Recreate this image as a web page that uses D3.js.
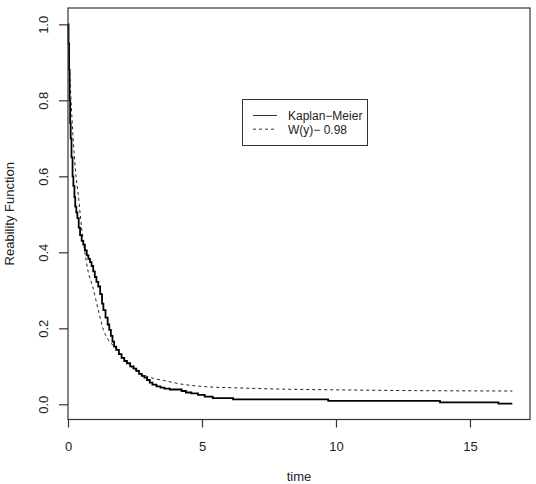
<!DOCTYPE html>
<html>
<head>
<meta charset="utf-8">
<script src="https://cdn.jsdelivr.net/npm/d3@7"></script>
<style>
  html, body { margin: 0; padding: 0; background: #fff; }
  svg { display: block; }
  text { font-family: "Liberation Sans", Arial, Helvetica, sans-serif; fill: #222; }
</style>
</head>
<body>
<svg id="chart" width="536" height="484"></svg>
<script>
// ---- data ----
const kmTime = [0, 0.02, 0.04, 0.06, 0.08, 0.10, 0.13, 0.17, 0.20, 0.24, 0.27, 0.31, 0.35, 0.40, 0.45,
  0.51, 0.57, 0.63, 0.70, 0.76, 0.82, 0.88, 0.94, 1.00, 1.06, 1.13, 1.20, 1.27, 1.32, 1.40, 1.48,
  1.54, 1.60, 1.66, 1.72, 1.80, 1.90, 2.00, 2.10, 2.20, 2.32, 2.45, 2.55, 2.65, 2.75, 2.85, 2.95,
  3.05, 3.15, 3.30, 3.45, 3.60, 3.80, 4.24, 4.40, 4.60, 4.85, 5.10, 5.40, 6.16, 9.71, 13.88, 16.06, 16.58];
const kmSurv = [1.0, 0.95, 0.88, 0.80, 0.74, 0.70, 0.65, 0.60, 0.575, 0.545, 0.52, 0.505, 0.49, 0.465, 0.445,
  0.43, 0.42, 0.405, 0.392, 0.383, 0.374, 0.364, 0.35, 0.335, 0.322, 0.31, 0.29, 0.265, 0.248, 0.228, 0.21,
  0.196, 0.18, 0.165, 0.152, 0.143, 0.132, 0.122, 0.114, 0.108, 0.100, 0.094, 0.088, 0.080, 0.075, 0.070, 0.064,
  0.057, 0.052, 0.047, 0.044, 0.041, 0.039, 0.035, 0.031, 0.029, 0.025, 0.020, 0.016, 0.013, 0.009, 0.005, 0.002, 0.002];

const wTime = [0, 0.05, 0.10, 0.15, 0.20, 0.30, 0.40, 0.47, 0.57, 0.63, 0.75, 0.92, 1.13, 1.32, 1.50,
  1.75, 2.00, 2.30, 2.69, 3.20, 3.56, 4.00, 5.00, 6.40, 8.00, 10.0, 13.0, 16.58];
const wSurv = [1.0, 0.90, 0.82, 0.75, 0.69, 0.60, 0.54, 0.49, 0.43, 0.40, 0.35, 0.31, 0.248, 0.196, 0.170,
  0.150, 0.126, 0.102, 0.082, 0.068, 0.063, 0.056, 0.047, 0.043, 0.040, 0.038, 0.036, 0.035];

const xTicks = [0, 5, 10, 15];
const yTicks = [0.0, 0.2, 0.4, 0.6, 0.8, 1.0];
const legendLabels = ["Kaplan\u2212Meier", "W(y)\u2212 0.98"];
const xLabel = "time";
const yLabel = "Reability Function";

// ---- layout ----
const L = 68, R = 530, T = 8, B = 419.5;
const svg = d3.select("#chart");
const x = d3.scaleLinear().domain([0, 17.24]).range([L, R]);
const y = d3.scaleLinear().domain([-0.04, 1.043]).range([B, T]);

// curves
const km = kmTime.map((t, i) => [t, kmSurv[i]]);
const wc = wTime.map((t, i) => [t, wSurv[i]]);

svg.append("path")
  .datum(wc)
  .attr("fill", "none")
  .attr("stroke", "#222")
  .attr("stroke-width", 1)
  .attr("stroke-dasharray", "3,3")
  .attr("d", d3.line().x(d => x(d[0])).y(d => y(d[1])).curve(d3.curveMonotoneX));

svg.append("path")
  .datum(km)
  .attr("fill", "none")
  .attr("stroke", "#000")
  .attr("stroke-width", 1.8)
  .attr("d", d3.line().x(d => x(d[0])).y(d => y(d[1])).curve(d3.curveStepAfter));

// box
svg.append("rect")
  .attr("x", L).attr("y", T).attr("width", R - L).attr("height", B - T)
  .attr("fill", "none").attr("stroke", "#333").attr("stroke-width", 1.2);

// x axis
const xa = svg.append("g").attr("transform", `translate(0,${B})`)
  .call(d3.axisBottom(x).tickValues(xTicks).tickFormat(d3.format("d")).tickSize(8).tickPadding(14));
xa.select(".domain").remove();
xa.selectAll("line").attr("stroke", "#333").attr("stroke-width", 1.2);
xa.selectAll("text").attr("font-size", 13).attr("fill", "#222")
  .style("font-family", "'Liberation Sans', Arial, sans-serif");

// y axis
const ya = svg.append("g").attr("transform", `translate(${L},0)`)
  .call(d3.axisLeft(y).tickValues(yTicks).tickFormat(d3.format(".1f")).tickSize(9));
ya.select(".domain").remove();
ya.selectAll("line").attr("stroke", "#333").attr("stroke-width", 1.2);
ya.selectAll("text")
  .attr("font-size", 13).attr("fill", "#222")
  .style("font-family", "'Liberation Sans', Arial, sans-serif")
  .attr("text-anchor", "middle")
  .attr("x", 0).attr("dy", 0)
  .attr("transform", "translate(-20,0) rotate(-90)")
  .attr("y", 0);

// axis labels
svg.append("text").attr("x", (L + R) / 2).attr("y", 481)
  .attr("text-anchor", "middle").attr("font-size", 13).text(xLabel);
svg.append("text")
  .attr("transform", `translate(14,${(T + B) / 2}) rotate(-90)`)
  .attr("text-anchor", "middle").attr("font-size", 13).text(yLabel);

// legend
const lg = svg.append("g");
lg.append("rect").attr("x", 242.5).attr("y", 99.5).attr("width", 125).attr("height", 46)
  .attr("fill", "#fff").attr("stroke", "#333").attr("stroke-width", 1);
const lgY = [115.5, 129.2];
legendLabels.forEach((lab, i) => {
  lg.append("line").attr("x1", 253).attr("x2", 277).attr("y1", lgY[i]).attr("y2", lgY[i])
    .attr("stroke", "#333").attr("stroke-width", 1)
    .attr("stroke-dasharray", i === 1 ? "3,3" : null);
  lg.append("text").attr("x", 288).attr("y", lgY[i] + 4.3)
    .attr("font-size", 12).text(lab);
});
</script>
</body>
</html>
